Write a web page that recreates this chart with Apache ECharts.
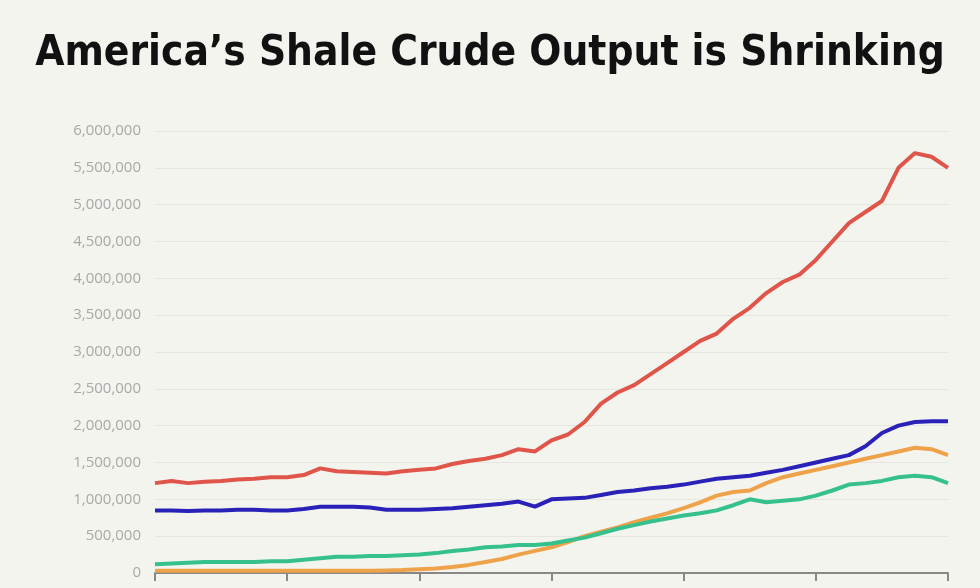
<!DOCTYPE html>
<html>
<head>
<meta charset="utf-8">
<script src="https://cdn.jsdelivr.net/npm/echarts@6/dist/echarts.min.js"></script>
<style>
  html, body { margin: 0; padding: 0; background: #f4f4ef; }
  #chart { width: 980px; height: 588px; }
</style>
</head>
<body>
<div id="chart"></div>
<script>
// monthly index, 49 points
var months = [];
for (var i = 0; i < 49; i++) months.push(String(i));

var redVals = [1220000,1250000,1220000,1240000,1250000,1270000,1280000,1300000,1300000,1330000,
  1420000,1380000,1370000,1360000,1350000,1380000,1400000,1420000,1480000,1520000,
  1550000,1600000,1680000,1650000,1800000,1880000,2050000,2300000,2450000,2550000,
  2700000,2850000,3000000,3150000,3250000,3450000,3600000,3800000,3950000,4050000,
  4250000,4500000,4750000,4900000,5050000,5500000,5700000,5650000,5500000];
var blueVals = [850000,850000,840000,850000,850000,860000,860000,850000,850000,870000,
  900000,900000,900000,890000,860000,860000,860000,870000,880000,900000,
  920000,940000,970000,900000,1000000,1010000,1020000,1060000,1100000,1120000,
  1150000,1170000,1200000,1240000,1280000,1300000,1320000,1360000,1400000,1450000,
  1500000,1550000,1600000,1720000,1900000,2000000,2050000,2060000,2060000];
var orangeVals = [30000,30000,30000,30000,30000,30000,30000,30000,30000,30000,
  30000,30000,30000,30000,35000,40000,50000,60000,80000,110000,
  150000,190000,250000,300000,350000,420000,500000,560000,620000,690000,
  750000,810000,880000,960000,1050000,1100000,1120000,1220000,1300000,1350000,
  1400000,1450000,1500000,1550000,1600000,1650000,1700000,1680000,1600000];
var greenVals = [120000,130000,140000,150000,150000,150000,150000,160000,160000,180000,
  200000,220000,220000,230000,230000,240000,250000,270000,300000,320000,
  350000,360000,380000,380000,400000,440000,480000,540000,600000,650000,
  700000,740000,780000,810000,850000,920000,1000000,960000,980000,1000000,
  1050000,1120000,1200000,1220000,1250000,1300000,1320000,1300000,1220000];
var lineColors = ['#e0554a', '#2a22b8', '#eea24a', '#35c08e'];

var chart = echarts.init(document.getElementById('chart'));
function mk(name, data, color) {
    return { name: name, type: 'line', data: data, showSymbol: false, smooth: false,
        lineStyle: { color: color, width: 4 }, itemStyle: { color: color } };
}
var option = {
    backgroundColor: '#f4f4ef',
    animation: false,
    title: {
        text: 'America\u2019s Shale Crude Output is Shrinking',
        left: 'center', top: 28,
        textStyle: { fontFamily: 'DejaVu Sans Condensed', fontWeight: 'bold', fontSize: 42, color: '#111' }
    },
    grid: { left: 155, right: 32, top: 131, bottom: 15 },
    xAxis: {
        type: 'category', data: months, boundaryGap: false,
        axisLine: { lineStyle: { color: '#888', width: 2 } },
        axisTick: { interval: 7, length: 8, lineStyle: { color: '#888', width: 2 } },
        axisLabel: { show: false }
    },
    yAxis: {
        type: 'value', min: 0, max: 6000000, interval: 500000,
        axisLine: { show: false }, axisTick: { show: false },
        axisLabel: { color: '#a8a8a8', fontSize: 15, fontFamily: 'Open Sans', margin: 14,
            formatter: function(v) { return v.toLocaleString('en-US'); } },
        splitLine: { lineStyle: { color: '#e6e6e0' } }
    },
    series: [
        mk('red', redVals, lineColors[0]),
        mk('blue', blueVals, lineColors[1]),
        mk('orange', orangeVals, lineColors[2]),
        mk('green', greenVals, lineColors[3])
    ]
};
option && chart.setOption(option);
</script>
</body>
</html>
